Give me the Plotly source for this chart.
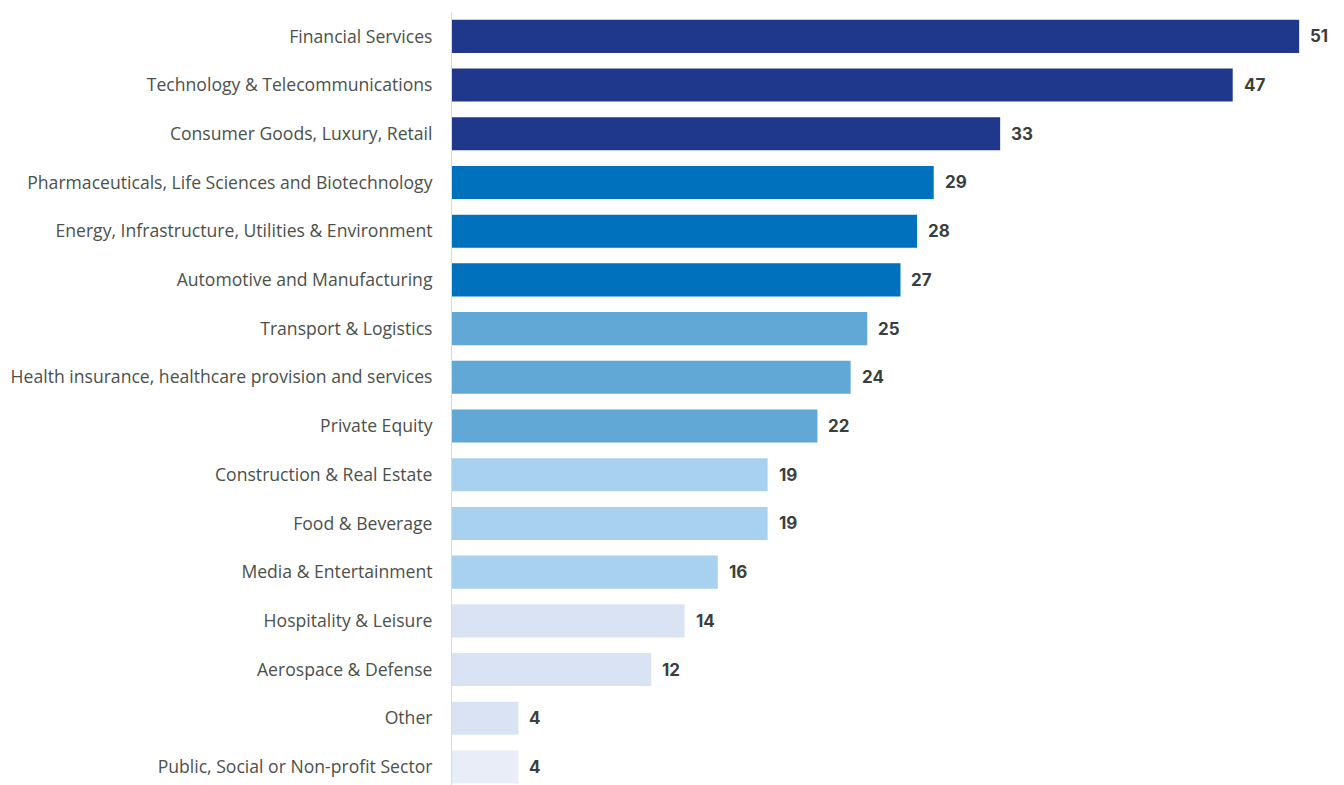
import plotly.graph_objects as go

sectors = [
    "Financial Services",
    "Technology & Telecommunications",
    "Consumer Goods, Luxury, Retail",
    "Pharmaceuticals, Life Sciences and Biotechnology",
    "Energy, Infrastructure, Utilities & Environment",
    "Automotive and Manufacturing",
    "Transport & Logistics",
    "Health insurance, healthcare provision and services",
    "Private Equity",
    "Construction & Real Estate",
    "Food & Beverage",
    "Media & Entertainment",
    "Hospitality & Leisure",
    "Aerospace & Defense",
    "Other",
    "Public, Social or Non-profit Sector",
]
counts = [51, 47, 33, 29, 28, 27, 25, 24, 22, 19, 19, 16, 14, 12, 4, 4]
bar_colors = (
    ["#1f388b"] * 3
    + ["#0071bc"] * 3
    + ["#62a8d7"] * 3
    + ["#a8d0ef"] * 3
    + ["#dae3f3"] * 3
    + ["#e8edf8"]
)

fig = go.Figure(
    go.Bar(
        x=counts,
        y=sectors,
        orientation="h",
        marker=dict(color=bar_colors, line=dict(width=0)),
        width=0.68,
        hoverinfo="x+y",
    )
)

for s, v in zip(sectors, counts):
    fig.add_annotation(
        x=v, y=s, text=f"<b>{v}</b>", showarrow=False,
        xanchor="left", yanchor="middle", xshift=9,
        font=dict(family="Inter, Open Sans, sans-serif", size=17, color="#3b3f3b"),
    )

fig.update_layout(
    width=1344, height=785,
    margin=dict(l=452, r=0, t=12, b=0),
    paper_bgcolor="white", plot_bgcolor="white",
    showlegend=False,
    bargap=0.32,
    xaxis=dict(range=[0, 53.7], visible=False, fixedrange=True),
    yaxis=dict(
        type="category",
        range=[15.37, -0.5],
        showline=True, linecolor="#d9d9d9", linewidth=1,
        showgrid=False, ticks="", ticklabelstandoff=15,
        tickfont=dict(family="Open Sans, sans-serif", size=17.6, color="#4b504b"),
    ),
)

fig.write_html("out.html")
